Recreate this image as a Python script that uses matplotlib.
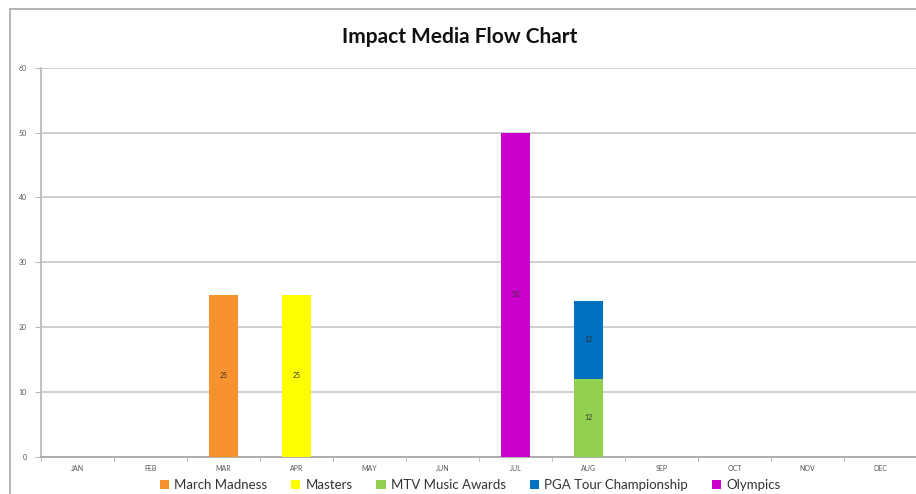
import matplotlib
matplotlib.use("Agg")
import matplotlib.pyplot as plt
from matplotlib.patches import Rectangle
import numpy as np

plt.rcParams['font.family'] = ['Lato', 'DejaVu Sans']

# chart data
months = ["JAN", "FEB", "MAR", "APR", "MAY", "JUN", "JUL", "AUG", "SEP", "OCT", "NOV", "DEC"]
series_names = ["March Madness", "Masters", "MTV Music Awards", "PGA Tour Championship", "Olympics"]
march_madness = [0, 0, 25, 0, 0, 0, 0, 0, 0, 0, 0, 0]
masters = [0, 0, 0, 25, 0, 0, 0, 0, 0, 0, 0, 0]
mtv_awards = [0, 0, 0, 0, 0, 0, 0, 12, 0, 0, 0, 0]
pga_tour = [0, 0, 0, 0, 0, 0, 0, 12, 0, 0, 0, 0]
olympics = [0, 0, 0, 0, 0, 0, 50, 0, 0, 0, 0, 0]
colors = ["#F7922E", "#FFFF00", "#92D050", "#0070C0", "#CC00CC"]

fig = plt.figure(figsize=(9.16, 4.94), dpi=100)
ax = fig.add_axes([41 / 916, 1 - 456.7 / 494, 876 / 916, (456.7 - 67.7) / 494])

# chart border (cropped on right and bottom)
fig.patches.append(Rectangle((10 / 916, -0.1), 1.2, 1.1 - 9 / 494, transform=fig.transFigure,
                             fill=False, edgecolor="#a8a8a8", linewidth=1.2))

x = np.arange(len(months))
bottom = np.zeros(len(months))
for name, vals, col in zip(series_names, [march_madness, masters, mtv_awards, pga_tour, olympics], colors):
    vals = np.array(vals, dtype=float)
    ax.bar(x, vals, 0.4, bottom=bottom, color=col, label=name, zorder=3)
    for i, v in enumerate(vals):
        if v > 0:
            ax.text(x[i], bottom[i] + v / 2, f"{int(v)}", ha="center", va="center",
                    fontsize=5, color="#333333", zorder=4)
    bottom += vals

ax.set_xlim(-0.5, 11.5)
ax.set_ylim(0, 60)
ax.set_yticks(range(0, 61, 10))
ax.set_xticks(x)
ax.set_xticklabels(months)
ax.set_xticks(np.arange(-0.5, 12, 1), minor=True)
ax.tick_params(axis="x", which="major", length=0, labelsize=5, colors="#555555", pad=6)
ax.tick_params(axis="x", which="minor", length=3, color="#aaaaaa")
ax.tick_params(axis="y", length=4, color="#bbbbbb", labelsize=5, labelcolor="#555555", pad=6)

ax.grid(axis="y", color="#cccccc", linewidth=1.3, zorder=0)
for s in ["top", "right"]:
    ax.spines[s].set_visible(False)
ax.spines["left"].set_color("#bbbbbb")
ax.spines["left"].set_linewidth(1.3)
ax.spines["bottom"].set_color("#aaaaaa")
ax.spines["bottom"].set_linewidth(1.3)

fig.text(460 / 916, 1 - 37 / 494, "Impact Media Flow Chart", ha="center", va="center",
         fontsize=15, fontweight="bold", color="#111111")

fig.legend(loc="center", bbox_to_anchor=(470 / 916, 1 - 485 / 494), ncol=5, frameon=False,
           fontsize=9.5, handlelength=0.7, handleheight=0.7, handletextpad=0.4,
           columnspacing=1.8, labelcolor="#333333")

plt.savefig("out.png", dpi=100)
